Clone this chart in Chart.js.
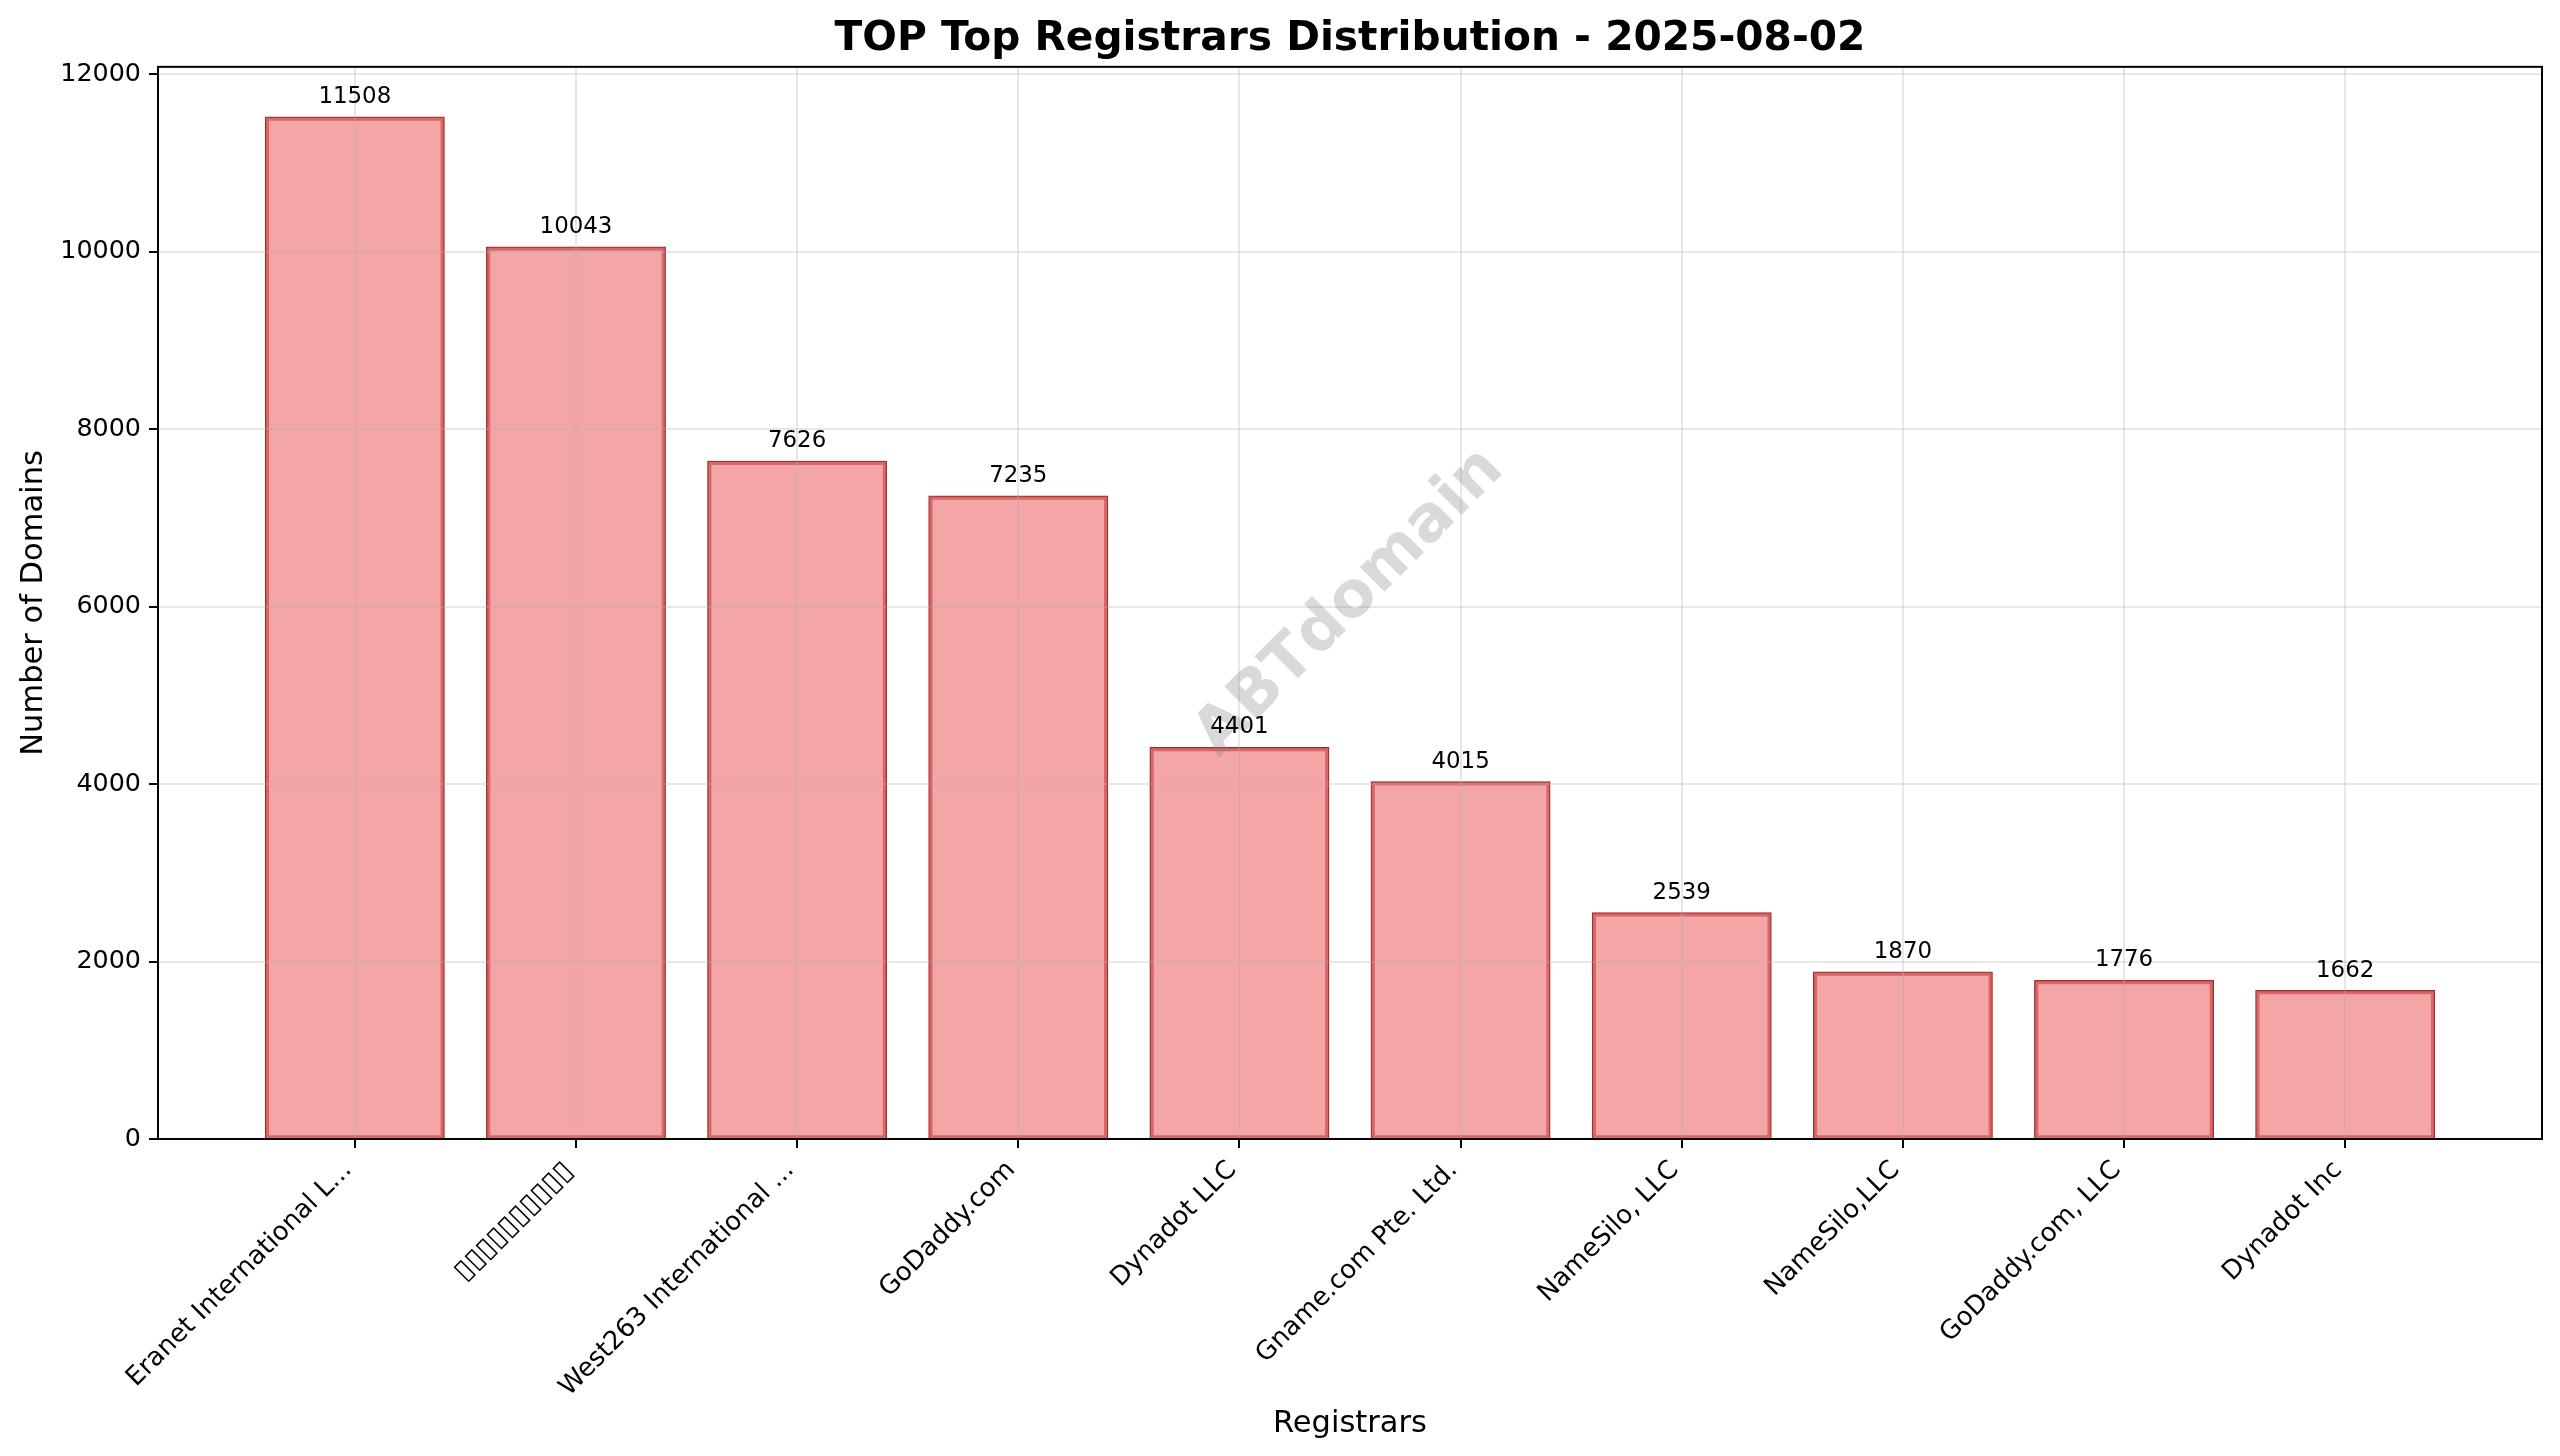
<!DOCTYPE html>
<html>
<head>
<meta charset="utf-8">
<title>Top Registrars</title>
<script src="https://cdn.jsdelivr.net/npm/chart.js@4"></script>
<style>
  html, body { margin: 0; padding: 0; background: #fff; }
  canvas { display: block; }
</style>
</head>
<body>
<canvas id="chart" width="2560" height="1456"></canvas>
<script>
const registrars = [
  "Eranet International L...",
  "▯▯▯▯▯▯▯▯▯▯",
  "West263 International ...",
  "GoDaddy.com",
  "Dynadot LLC",
  "Gname.com Pte. Ltd.",
  "NameSilo, LLC",
  "NameSilo,LLC",
  "GoDaddy.com, LLC",
  "Dynadot Inc"
];
const domainCounts = [11508, 10043, 7626, 7235, 4401, 4015, 2539, 1870, 1776, 1662];
const yTicks = [0, 2000, 4000, 6000, 8000, 10000, 12000];
const chartTitle = "TOP Top Registrars Distribution - 2025-08-02";
const watermark = "ABTdomain";

const FONT = '"DejaVu Sans"';
const GRID = "rgba(176,176,176,0.3)";

// valores em cima das barras, marca d'agua e moldura
const extras = {
  id: "extras",
  afterDraw(chart) {
    const { ctx, chartArea: a } = chart;

    ctx.save();
    ctx.translate((a.left + a.right) / 2, (a.top + a.bottom) / 2);
    ctx.rotate(-Math.PI / 4);
    ctx.font = "bold 63.5px " + FONT;
    ctx.fillStyle = "rgba(128,128,128,0.3)";
    ctx.textAlign = "center";
    ctx.textBaseline = "middle";
    ctx.fillText(watermark, 0, 0);
    ctx.restore();

    ctx.save();
    ctx.font = "22.9px " + FONT;
    ctx.fillStyle = "#000";
    ctx.textAlign = "center";
    ctx.textBaseline = "alphabetic";
    chart.getDatasetMeta(0).data.forEach((bar, i) => {
      ctx.fillText(String(domainCounts[i]), bar.x, bar.y - 15);
    });
    ctx.strokeStyle = "#000";
    ctx.lineWidth = 2;
    ctx.strokeRect(a.left, a.top, a.right - a.left, a.bottom - a.top);
    ctx.restore();
  }
};

new Chart(document.getElementById("chart"), {
  type: "bar",
  data: {
    datasets: [{
      data: domainCounts.map((v, i) => ({ x: i, y: v })),
      backgroundColor: "rgba(240,128,128,0.7)",
      borderColor: "#a02c2c",
      borderWidth: 1.25,
      borderSkipped: false,
      inflateAmount: 1.5,
      barPercentage: 1,
      categoryPercentage: 0.8
    }]
  },
  options: {
    responsive: false,
    animation: false,
    layout: { padding: { left: 0, right: 18, top: 0, bottom: 0 } },
    plugins: {
      legend: { display: false },
      tooltip: { enabled: false },
      title: {
        display: true,
        fullSize: false,
        text: chartTitle,
        color: "#000",
        font: { family: FONT, size: 40.7, weight: "bold" },
        padding: { top: 15, bottom: 3 }
      }
    },
    scales: {
      x: {
        type: "linear",
        offset: false,
        min: -0.89,
        max: 9.89,
        grid: { offset: false, color: GRID, lineWidth: 2, z: 1, tickColor: "#000", tickLength: 9 },
        border: { display: false },
        afterFit(scale) { scale.height = 317; },
        afterBuildTicks(scale) { scale.ticks = registrars.map((r, i) => ({ value: i })); },
        ticks: {
          autoSkip: false,
          minRotation: 45,
          maxRotation: 45,
          color: "#000",
          padding: 7,
          labelOffset: -7,
          // os quadradinhos do segundo rotulo sao um pouco maiores
          font: c => ({ family: FONT, size: c.index === 1 ? 28.2 : 25.9 }),
          callback: v => registrars[v]
        },
        title: {
          display: true,
          text: "Registrars",
          color: "#000",
          font: { family: FONT, size: 30.5 },
          padding: { top: 0, bottom: 14 }
        }
      },
      y: {
        min: 0,
        max: 12083.4,
        grid: { color: GRID, lineWidth: 2, z: 1, tickColor: "#000", tickLength: 9 },
        border: { display: false },
        afterFit(scale) { scale.width = 158; },
        afterBuildTicks(scale) { scale.ticks = yTicks.map(v => ({ value: v })); },
        ticks: {
          color: "#000",
          padding: 8,
          font: { family: FONT, size: 25.4 },
          callback: v => String(v)
        },
        title: {
          display: true,
          text: "Number of Domains",
          color: "#000",
          font: { family: FONT, size: 30.5 },
          padding: { top: 16, bottom: 0 }
        }
      }
    }
  },
  plugins: [extras]
});
</script>
</body>
</html>
